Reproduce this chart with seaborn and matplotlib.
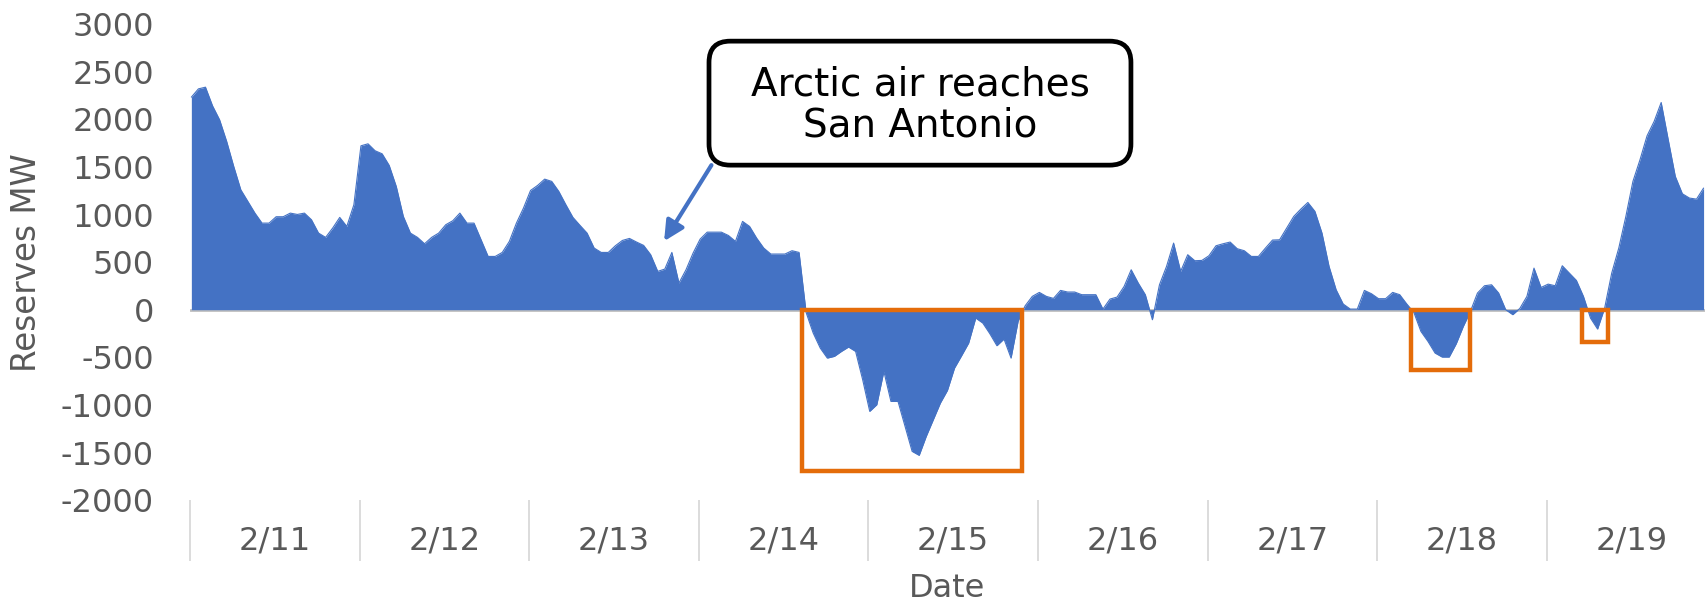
import numpy as np
import pandas as pd
import matplotlib.pyplot as plt
import seaborn as sns
from matplotlib.patches import Rectangle, FancyBboxPatch

# hourly operating reserves (MW), one list per day
days = ['2/11', '2/12', '2/13', '2/14', '2/15', '2/16', '2/17', '2/18', '2/19']
feb11 = [2233, 2320, 2338, 2142, 1995, 1768, 1505, 1260, 1138, 1015, 910, 910,
         977, 977, 1015, 1001, 1015, 945, 805, 760, 858, 970, 875, 1103]
feb12 = [1722, 1743, 1670, 1638, 1516, 1295, 980, 805, 760, 693, 760, 805,
         893, 935, 1015, 910, 910, 735, 560, 560, 602, 718, 910, 1068]
feb13 = [1253, 1306, 1372, 1348, 1243, 1103, 970, 886, 805, 648, 602, 602,
         672, 728, 749, 711, 676, 578, 403, 427, 602, 280, 420, 595]
feb14 = [742, 815, 815, 815, 780, 718, 928, 875, 752, 648, 585, 585,
         585, 620, 602, -30, -245, -403, -508, -490, -438, -392, -438, -735]
feb15 = [-1068, -998, -648, -963, -963, -1225, -1488, -1530, -1330, -1155, -980, -847,
         -613, -483, -350, -88, -140, -252, -378, -308, -508, -120, 42, 140]
feb16 = [182, 140, 119, 203, 186, 186, 158, 158, 158, 7, 112, 133,
         245, 420, 280, 158, -105, 262, 455, 700, 403, 578, 515, 518]
feb17 = [567, 672, 693, 711, 641, 620, 560, 560, 648, 732, 735, 858,
         980, 1057, 1127, 1033, 805, 455, 210, 60, 7, 7, 203, 168]
feb18 = [116, 116, 182, 158, 60, -28, -228, -333, -455, -497, -497, -357,
         -175, -18, 175, 252, 262, 175, 0, -52, 14, 140, 437, 234]
feb19 = [269, 252, 462, 385, 308, 140, -88, -203, 18, 385, 648, 980,
         1348, 1575, 1827, 1978, 2177, 1785, 1400, 1218, 1173, 1162, 1278]

reserves = feb11 + feb12 + feb13 + feb14 + feb15 + feb16 + feb17 + feb18 + feb19
df = pd.DataFrame({'hour': np.arange(len(reserves)), 'reserves': reserves})

blue = '#4472C4'
orange = '#E46C0A'
grey = '#595959'

sns.set_style('white')
plt.rcParams['font.family'] = ['DejaVu Sans']
plt.rcParams['axes.unicode_minus'] = False

fig = plt.figure(figsize=(17.05, 6.04), dpi=100)
ax = fig.add_axes([0.1114, 0.172, 0.8886, 0.788])

ax.axhline(0, color='#BFBFBF', lw=2, zorder=0.5)
ax.fill_between(df['hour'], df['reserves'], 0, color=blue, lw=0, zorder=1)
sns.lineplot(data=df, x='hour', y='reserves', color=blue, lw=0.8, ax=ax, zorder=1.2)

ax.set_xlim(-0.2, 214.2)
ax.set_ylim(-2000, 3000)
ax.set_yticks(range(-2000, 3001, 500))

ax.set_xticks([24 * d - 0.2 for d in range(len(days))])
ax.set_xticklabels([])
ax.set_xticks([24 * d + 11.8 for d in range(len(days))], minor=True)
ax.set_xticklabels(days, minor=True)
ax.tick_params(axis='x', which='major', length=44, width=1.3, color='#D9D9D9', direction='out', bottom=True)
ax.tick_params(axis='x', which='minor', length=0, pad=18, labelsize=23, labelcolor=grey)
ax.tick_params(axis='y', length=0, pad=26, labelsize=23, labelcolor=grey)

for s in ax.spines.values():
    s.set_visible(False)

ax.set_xlabel('Date', fontsize=23, color=grey, labelpad=5)
ax.set_ylabel('Reserves MW', fontsize=23.5, color=grey)
ax.yaxis.set_label_coords(-0.097, 0.5)

# call-out box and arrow (box in axes fraction, corners kept round)
aspect = (0.8886 * 17.05) / (0.788 * 6.04)
callout = FancyBboxPatch((0.3426, 0.7038), 0.2785, 0.2605, transform=ax.transAxes,
                         boxstyle='round,pad=0,rounding_size=0.014', mutation_aspect=aspect,
                         fc='white', ec='black', lw=3.4, zorder=4, clip_on=False)
ax.add_patch(callout)
ax.text(0.4819, 0.830, 'Arctic air reaches\nSan Antonio', transform=ax.transAxes,
        ha='center', va='center', fontsize=28, color='black', linespacing=1.1, zorder=5)
ax.annotate('', xy=(66.9, 720), xytext=(73.6, 1519),
            arrowprops=dict(arrowstyle='-|>', color=blue, lw=3, mutation_scale=30, shrinkA=0, shrinkB=0))

# orange highlight boxes around the shortfalls
shortfalls = [(86.4, 117.5, -1693), (172.6, 180.9, -631), (196.8, 200.5, -334)]
for x0, x1, y0 in shortfalls:
    ax.add_patch(Rectangle((x0, y0), x1 - x0, -y0, fill=False, ec=orange, lw=3.2, zorder=3))

fig.savefig('out.png', dpi=100)
